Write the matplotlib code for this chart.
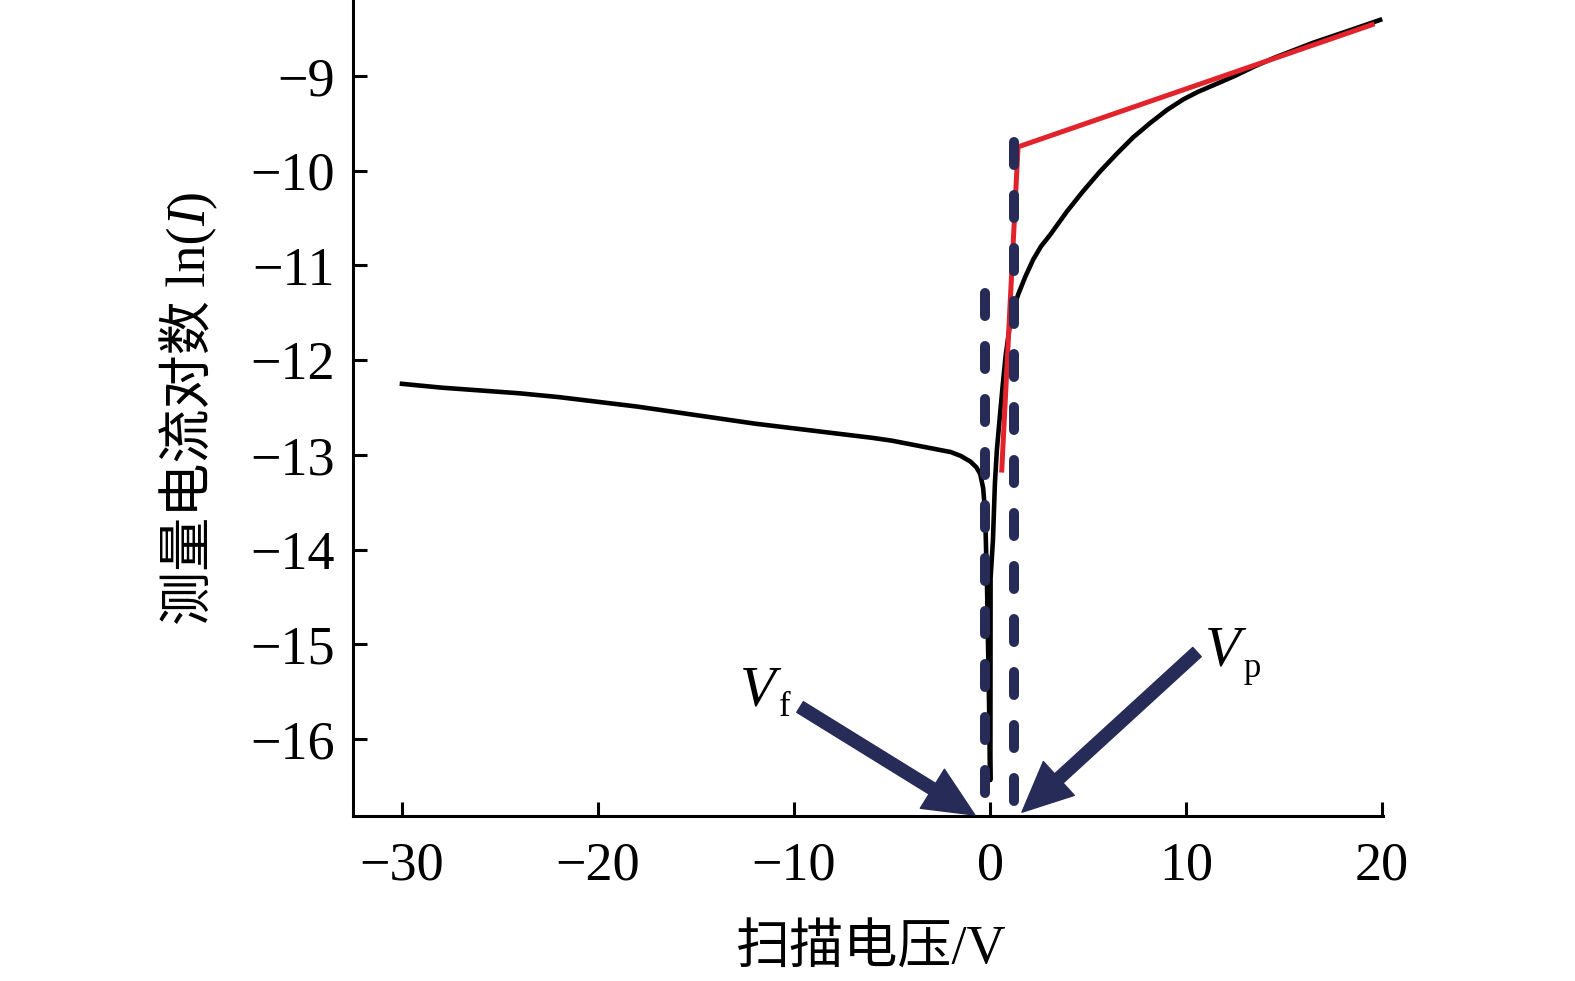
import numpy as np
import matplotlib.pyplot as plt
from matplotlib.patches import FancyArrowPatch

plt.rcParams['font.family'] = ['Liberation Serif', 'Noto Sans CJK SC', 'DejaVu Sans']
plt.rcParams['axes.unicode_minus'] = True

volt = [-30, -28, -26, -24, -22, -20, -18, -16, -14, -12, -10, -8, -6, -5, -4,
        -3, -2, -1.5, -1.0, -0.7, -0.5, -0.35, -0.25, -0.15, -0.05, 0.0,
        0.02, 0.03, 0.15, 0.25, 0.35, 0.5, 0.66, 0.8, 1.0, 1.2, 1.45, 1.8,
        2.2, 2.6, 3.06, 3.93, 4.74, 5.61, 6.48, 7.3, 8.16, 9.03, 9.85, 10.6,
        11.5, 12.5, 13.5, 14.5, 15.5, 16.5, 17.5, 18.5, 19.9]
ln_i = [-12.25, -12.29, -12.32, -12.35, -12.39, -12.44, -12.49, -12.55, -12.61,
        -12.67, -12.72, -12.77, -12.82, -12.85, -12.89, -12.93, -12.97, -13.01,
        -13.07, -13.13, -13.20, -13.35, -13.60, -14.40, -15.60, -16.43,
        -16.43, -14.30, -13.90, -13.30, -12.95, -12.60, -12.24, -11.95, -11.65,
        -11.45, -11.30, -11.12, -10.94, -10.80, -10.68, -10.43, -10.22, -10.01,
        -9.82, -9.65, -9.50, -9.36, -9.25, -9.17, -9.09, -9.00, -8.90, -8.81,
        -8.73, -8.65, -8.58, -8.51, -8.41]

# tangent fit lines (red)
fit_v = [0.6, 1.43, 19.5]
fit_i = [-13.16, -9.75, -8.46]

# floating / plasma potential markers
vf = -0.25
vf_span = [-11.29, -16.65]
vp = 1.2
vp_span = [-9.70, -16.70]

navy = '#262b57'

fig = plt.figure(figsize=(15.75, 9.81), dpi=100)
ax = fig.add_axes([0.2241, 0.1682, 0.654, 0.8318])

ax.plot(volt, ln_i, color='black', lw=3.3, zorder=2)
ax.plot(fit_v, fit_i, color='#e3232c', lw=3.6, zorder=3)
for xv, span in [(vf, vf_span), (vp, vp_span)]:
    ln, = ax.plot([xv, xv], span, color=navy, lw=7.2, zorder=4,
                  dash_capstyle='round', solid_capstyle='round')
    ln.set_dashes((2.3, 3.0))

# arrows pointing at Vf and Vp
arrows = [((-9.69, -15.66), (-0.77, -16.80)),
          ((10.56, -15.08), (1.63, -16.77))]
for tail, tip in arrows:
    arr = FancyArrowPatch(tail, tip, arrowstyle='simple,head_length=0.6,head_width=0.55,tail_width=0.15',
                          mutation_scale=60, color=navy, shrinkA=0, shrinkB=0,
                          zorder=5, clip_on=False)
    ax.add_patch(arr)

# V_f and V_p labels: italic V, roman subscript
ax.text(-12.75, -15.64, 'V', fontsize=42, style='italic', ha='left', va='baseline')
ax.text(-10.75, -15.76, 'f', fontsize=25, ha='left', va='baseline')
ax.text(10.97, -15.22, 'V', fontsize=42, style='italic', ha='left', va='baseline')
ax.text(12.95, -15.34, 'p', fontsize=25, ha='left', va='baseline')

ax.set_xlim(-32.5, 20.05)
ax.set_ylim(-16.81, -8.2)
ax.set_xticks([-30, -20, -10, 0, 10, 20])
ax.set_yticks([-16, -15, -14, -13, -12, -11, -10, -9])
ax.spines['top'].set_visible(False)
ax.spines['right'].set_visible(False)
for s in ['left', 'bottom']:
    ax.spines[s].set_linewidth(2.2)
ax.tick_params(direction='in', length=10, width=2.2, labelsize=39)
ax.tick_params(axis='x', pad=18)
ax.tick_params(axis='y', pad=13)

fig.text(871 / 1575, 1 - 964 / 981, '扫描电压/V', fontsize=39, ha='center', va='baseline')

# y label built from pieces so that "I" can be italic
renderer = fig.canvas.get_renderer()
pieces = [('测量电流对数 ln(', 'normal'), ('I', 'italic'), (')', 'normal')]
base_x = 205 / 1575
texts = []
lengths = []
for s, st in pieces:
    t = fig.text(base_x, 0, s, fontsize=39, style=st, rotation=90,
                 rotation_mode='anchor', ha='left', va='baseline')
    texts.append(t)
    lengths.append(t.get_window_extent(renderer).height / fig.bbox.height)
y = (1 - 407.5 / 981) - sum(lengths) / 2
for t, h in zip(texts, lengths):
    t.set_y(y)
    y += h

fig.savefig('out.png', dpi=100)
